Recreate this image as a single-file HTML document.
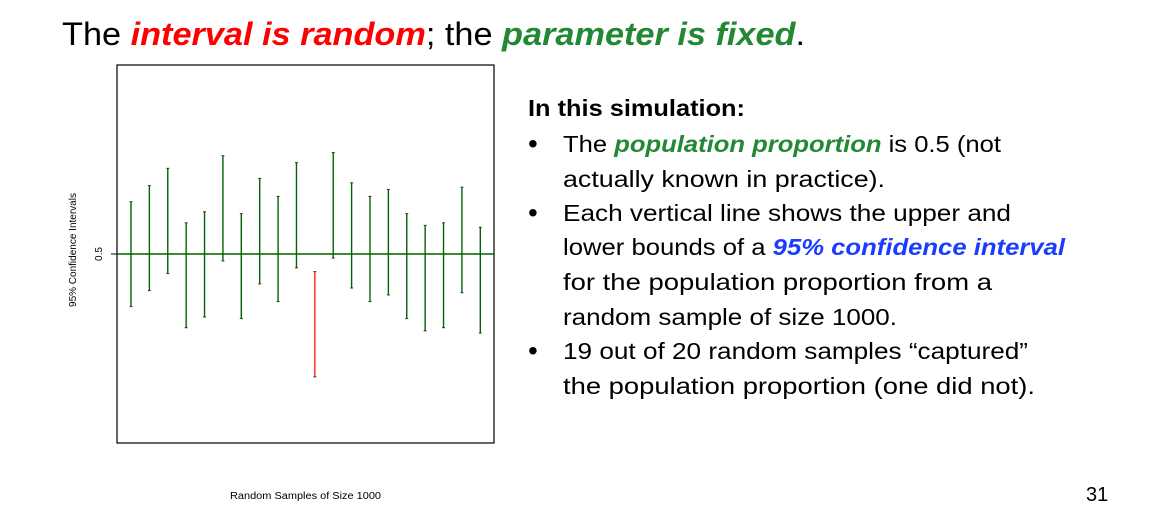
<!DOCTYPE html>
<html><head><meta charset="utf-8"><style>
html,body{margin:0;padding:0;background:#fff;width:1173px;height:531px;overflow:hidden}
svg{display:block}
</style></head><body>
<svg id="slide" width="1173" height="531" viewBox="0 0 1173 531">
<text x="62" y="45" font-family="Liberation Sans, sans-serif" font-size="32" textLength="743" lengthAdjust="spacingAndGlyphs">The <tspan fill="#ff0000" font-weight="bold" font-style="italic">interval is random</tspan>; the <tspan fill="#228833" font-weight="bold" font-style="italic">parameter is fixed</tspan>.</text>

<g id="chart">
<rect x="117" y="65" width="377" height="378" fill="none" stroke="#000" stroke-width="1.2"/>
<line x1="111" y1="254" x2="117" y2="254" stroke="#000"/>
<text x="102" y="254" transform="rotate(-90 102 254)" text-anchor="middle" font-family="Liberation Sans, sans-serif" font-size="10">0.5</text>
<text x="76" y="250" transform="rotate(-90 76 250)" text-anchor="middle" font-family="Liberation Sans, sans-serif" font-size="10">95% Confidence Intervals</text>
<text x="230" y="499" font-family="Liberation Sans, sans-serif" font-size="10" textLength="151" lengthAdjust="spacingAndGlyphs">Random Samples of Size 1000</text>
<g id="marks"></g>
</g>

<g font-family="Liberation Sans, sans-serif" font-size="23">
<text x="528" y="116" font-weight="bold" textLength="217" lengthAdjust="spacingAndGlyphs">In this simulation:</text>
<text x="528" y="153" font-size="28">•</text>
<text x="563" y="152" textLength="438" lengthAdjust="spacingAndGlyphs">The <tspan fill="#228833" font-weight="bold" font-style="italic">population proportion</tspan> is 0.5 (not</text>
<text x="563" y="187" textLength="322" lengthAdjust="spacingAndGlyphs">actually known in practice).</text>
<text x="528" y="222" font-size="28">•</text>
<text x="563" y="221" textLength="448" lengthAdjust="spacingAndGlyphs">Each vertical line shows the upper and</text>
<text x="563" y="255" textLength="502" lengthAdjust="spacingAndGlyphs">lower bounds of a <tspan fill="#1a3cff" font-weight="bold" font-style="italic">95% confidence interval</tspan></text>
<text x="563" y="290" textLength="429" lengthAdjust="spacingAndGlyphs">for the population proportion from a</text>
<text x="563" y="325" textLength="334" lengthAdjust="spacingAndGlyphs">random sample of size 1000.</text>
<text x="528" y="360" font-size="28">•</text>
<text x="563" y="359" textLength="465" lengthAdjust="spacingAndGlyphs">19 out of 20 random samples “captured”</text>
<text x="563" y="394" textLength="472" lengthAdjust="spacingAndGlyphs">the population proportion (one did not).</text>
</g>
<text x="1086" y="501" font-family="Liberation Sans, sans-serif" font-size="20">31</text>
</svg>
<script>
const samples = [1,2,3,4,5,6,7,8,9,10,11,12,13,14,15,16,17,18,19,20];
const upper = [0.5166,0.5217,0.5272,0.5099,0.5134,0.5312,0.5128,0.5240,0.5183,0.5290,0.4944,0.5322,0.5226,0.5183,0.5205,0.5128,0.5091,0.5099,0.5212,0.5085];
const lower = [0.4833,0.4884,0.4938,0.4766,0.4800,0.4978,0.4795,0.4905,0.4849,0.4956,0.4610,0.4987,0.4892,0.4849,0.4870,0.4795,0.4756,0.4766,0.4877,0.4749];
const trueP = [0.5];

const NS = 'http://www.w3.org/2000/svg';
const xPos = i => 131 + (i - 1) * (480.3 - 131) / 19;
const yPos = v => 254 - (v - 0.5) * 3150;
const g = document.getElementById('marks');

const ref = document.createElementNS(NS, 'line');
ref.setAttribute('x1', 117); ref.setAttribute('x2', 494);
ref.setAttribute('y1', yPos(trueP[0])); ref.setAttribute('y2', yPos(trueP[0]));
ref.setAttribute('stroke', '#006400'); ref.setAttribute('stroke-width', '1.6');


g.appendChild(ref);

samples.forEach((s, k) => {
  const miss = lower[k] > trueP[0] || upper[k] < trueP[0];
  const col = miss ? '#ff2020' : '#006400';
  const x = xPos(s);
  const ln = document.createElementNS(NS, 'line');
  ln.setAttribute('x1', x); ln.setAttribute('x2', x);
  ln.setAttribute('y1', yPos(upper[k])); ln.setAttribute('y2', yPos(lower[k]));
  ln.setAttribute('stroke', col); ln.setAttribute('stroke-width', '1.4');
  
  
  g.appendChild(ln);
  [upper[k], lower[k]].forEach(v => {
    const c = document.createElementNS(NS, 'line');
    c.setAttribute('x1', x - 1.5); c.setAttribute('x2', x + 1.5);
    c.setAttribute('y1', yPos(v)); c.setAttribute('y2', yPos(v));
    c.setAttribute('stroke', '#333'); c.setAttribute('stroke-width', '1');
    
    
    g.appendChild(c);
  });
});
</script>
</body></html>
